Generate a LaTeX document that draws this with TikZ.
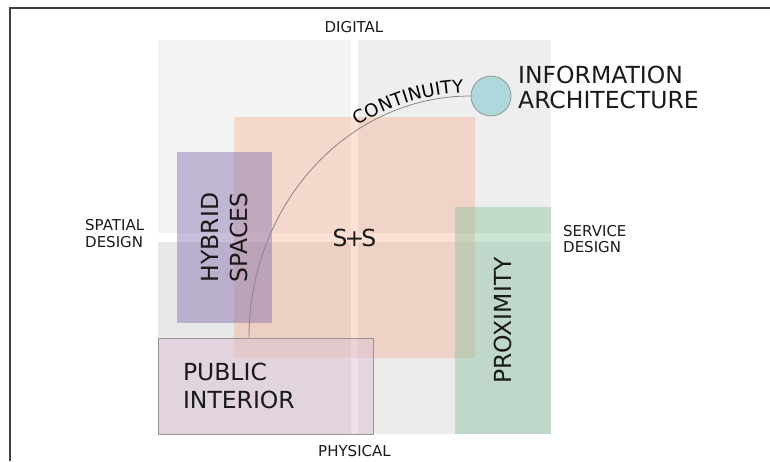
\documentclass[tikz,border=0pt]{standalone}
\usepackage{fontspec}
\setmainfont{DejaVu Sans}
\usetikzlibrary{positioning,decorations.text}
\definecolor{quadlight}{RGB}{243,243,243}
\definecolor{quadmid}{RGB}{238,238,238}
\definecolor{quaddark}{RGB}{232,232,232}
\definecolor{quadgrey}{RGB}{235,235,235}
\definecolor{ssorange}{RGB}{245,160,120}
\definecolor{hybpurple}{RGB}{130,110,175}
\definecolor{proxgreen}{RGB}{140,195,160}
\definecolor{pubpink}{RGB}{220,194,214}
\definecolor{iablue}{RGB}{174,216,222}
\definecolor{edgegrey}{RGB}{150,150,150}
\definecolor{inkblack}{RGB}{26,26,26}
\newcommand{\contfont}{\fontsize{18}{20}\selectfont}

\begin{document}
\begin{tikzpicture}[x=1pt, y=1pt,
    bigtext/.style={font=\fontsize{23.5}{28}\selectfont, text=inkblack},
    axistext/.style={font=\fontsize{15}{17}\selectfont, text=inkblack, inner sep=0pt, align=left},
    area/.style={fill opacity=#1, text opacity=1, inner sep=0pt, align=center, bigtext}]
    \useasboundingbox (0,0) rectangle (770,461);
    \draw[line width=1.2pt, black!75] (10,0) -- (10,453) -- (770,453);

    % four quadrants
    \fill[quadlight] (158,228) rectangle (351,421);
    \fill[quadmid] (358,228) rectangle (551,421);
    \fill[quaddark] (158,27) rectangle (351,219);
    \fill[quadgrey] (358,27) rectangle (551,219);

    \node[area=0.32, fill=ssorange, minimum size=241pt] (ss) at (354.5,223.5) {S\kern-3pt+\kern-3pt S};
    \node[area=0.45, fill=hybpurple, rotate=90, minimum width=171pt, minimum height=95pt,
          font=\fontsize{23.5}{29}\selectfont] (hyb) at (224.5,223.5) {HYBRID\\SPACES};
    \node[area=0.45, fill=proxgreen, rotate=90, minimum width=227pt, minimum height=96pt] (prox) at (503,140.5) {PROXIMITY};
    \node[area=0.5, fill=pubpink, draw=edgegrey, line width=0.8pt, minimum width=215pt, minimum height=96pt,
          text width=165pt, inner xsep=25pt, align=left] (pub) at (265.5,75) {PUBLIC\\INTERIOR};

    \node[circle, draw=edgegrey, fill=iablue, line width=0.8pt, minimum size=40pt, inner sep=0pt] (ia) at (491,365) {};
    \node[bigtext, anchor=west, inner sep=0pt, align=left, font=\fontsize{23.5}{25}\selectfont] (ialabel) at (518,373.5) {INFORMATION\\ARCHITECTURE};

    % continuity curve
    \draw[edgegrey!90!black, line width=0.8pt] ([xshift=-16.5pt]pub.north) .. controls +(0,133.6) and +(-122.5,0) .. (ia.west);
    \path[decorate, decoration={text along path, text={|\contfont|CONTINUITY}, text align={right, right indent=7pt}, raise=3pt}]
        ([xshift=-16.5pt]pub.north) .. controls +(0,133.6) and +(-122.5,0) .. (ia.west);

    \node[axistext] (digital) at (354,434) {DIGITAL};
    \node[axistext] (physical) at (354.5,10) {PHYSICAL};
    \node[axistext, anchor=west] (spatial) at (85,227) {SPATIAL\\DESIGN};
    \node[axistext, anchor=west, font=\fontsize{15}{16}\selectfont] (service) at (563,222) {SERVICE\\DESIGN};
\end{tikzpicture}
\end{document}
